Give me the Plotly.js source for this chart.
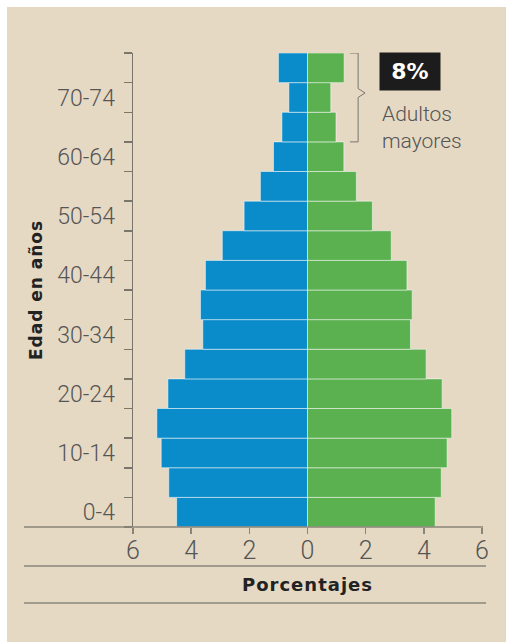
<!DOCTYPE html>
<html>
<head>
<meta charset="utf-8">
<script src="https://cdn.plot.ly/plotly-3.0.1.min.js"></script>
<style>
  html, body { margin: 0; padding: 0; background: #ffffff; }
  #chart { width: 506px; height: 642px; }
  .xtitle, .ytitle { letter-spacing: 1px; }
</style>
</head>
<body>
<div id="chart"></div>
<script>
// Age groups (bottom to top)
const ageGroups = ['0-4','5-9','10-14','15-19','20-24','25-29','30-34','35-39',
                   '40-44','45-49','50-54','55-59','60-64','65-69','70-74','75+'];
// Percent of population, men (left, blue) and women (right, green)
const menPct   = [4.50, 4.77, 5.03, 5.18, 4.80, 4.22, 3.60, 3.68, 3.51, 2.93, 2.18, 1.62, 1.17, 0.88, 0.64, 1.00];
const womenPct = [4.39, 4.60, 4.80, 4.96, 4.63, 4.08, 3.54, 3.60, 3.42, 2.88, 2.23, 1.68, 1.25, 0.98, 0.80, 1.26];
// X tick values and labels
const xTickVals = [-6, -4, -2, 0, 2, 4, 6];
const xTickText = ['6', '4', '2', '0', '2', '4', '6'];
// Elderly share callout
const elderlyShare = '8%';
const elderlyLabel = 'Adultos<br>mayores';

const idx = ageGroups.map((_, i) => i);
const yTickVals = idx.filter(i => i % 2 === 0);
const yTickText = yTickVals.map(i => ageGroups[i]);

const lineCol = 'rgba(255,255,255,0.5)';
const traces = [
  {
    type: 'bar', orientation: 'h', name: 'Hombres',
    y: idx, x: menPct.map(v => -v),
    marker: { color: '#0a8bca', line: { color: lineCol, width: 1 } },
    hoverinfo: 'skip'
  },
  {
    type: 'bar', orientation: 'h', name: 'Mujeres',
    y: idx, x: womenPct,
    marker: { color: '#5bb150', line: { color: lineCol, width: 1 } },
    hoverinfo: 'skip'
  }
];

const L = 133, R = 24, T = 53, B = 115, W = 506, H = 642;
const pw = W - L - R, ph = H - T - B;
const px2x = p => (p - L) / pw;          // pixel -> paper x
const py2y = p => (H - B - p) / ph;      // pixel -> paper y

const gray = '#a19b8e';
const layout = {
  width: W, height: H,
  margin: { l: L, r: R, t: T, b: B, pad: 0 },
  paper_bgcolor: '#e5d9c4',
  plot_bgcolor: 'rgba(0,0,0,0)',
  showlegend: false,
  barmode: 'overlay',
  bargap: 0,
  font: { family: 'Liberation Sans, Arial, sans-serif', color: '#555' },
  xaxis: {
    range: [-6, 6],
    tickvals: xTickVals, ticktext: xTickText,
    ticks: 'outside', ticklen: 6, tickcolor: '#8a8578', tickwidth: 1.5,
    ticklabelstandoff: -5,
    tickfont: { family: 'Roboto, Liberation Sans, sans-serif', weight: 300, size: 25, color: '#555' },
    showgrid: false, zeroline: false, showline: false,
    fixedrange: true,
    title: { text: 'Porcentajes', standoff: 14,
             font: { family: 'DejaVu Sans, sans-serif', weight: 'bold', size: 18, color: '#222' } }
  },
  yaxis: {
    range: [-0.5, 15.5],
    tickvals: yTickVals, ticktext: yTickText,
    ticks: '', ticklabelstandoff: 12,
    tickfont: { family: 'Roboto, Liberation Sans, sans-serif', weight: 300, size: 23, color: '#555' },
    minor: { tick0: -0.5, dtick: 1, ticks: 'outside', ticklen: 8, tickcolor: '#7a766c', tickwidth: 1.5, showgrid: false },
    showgrid: false, zeroline: false,
    showline: true, linecolor: '#7a766c', linewidth: 1.5,
    fixedrange: true,
    title: { text: 'Edad en años', standoff: 10,
             font: { family: 'DejaVu Sans, sans-serif', weight: 'bold', size: 17, color: '#222' } }
  },
  shapes: [
    // white border strips (top and left)
    { type: 'rect', xref: 'paper', yref: 'paper', x0: px2x(-5), x1: px2x(7), y0: py2y(650), y1: py2y(-5),
      fillcolor: '#ffffff', line: { width: 0 }, layer: 'below' },
    { type: 'rect', xref: 'paper', yref: 'paper', x0: px2x(-5), x1: px2x(515), y0: py2y(7), y1: py2y(-5),
      fillcolor: '#ffffff', line: { width: 0 }, layer: 'below' },
    // bottom axis line
    { type: 'line', xref: 'paper', yref: 'paper', x0: px2x(24), x1: px2x(483), y0: 0, y1: 0,
      line: { color: '#8a8578', width: 1.5 } },
    // rule lines around the x title
    { type: 'line', xref: 'paper', yref: 'paper', x0: px2x(24), x1: px2x(486), y0: py2y(566), y1: py2y(566),
      line: { color: gray, width: 2 } },
    { type: 'line', xref: 'paper', yref: 'paper', x0: px2x(24), x1: px2x(486), y0: py2y(603), y1: py2y(603),
      line: { color: gray, width: 2 } },
    // curly brace for the elderly groups
    { type: 'path', xref: 'x', yref: 'y',
      path: 'M 1.46 15.5 L 1.74 15.5 L 1.74 14.3 L 1.98 14.15 L 1.74 14.0 L 1.74 12.5 L 1.46 12.5',
      line: { color: '#7a766c', width: 1 } }
  ],
  annotations: [
    { xref: 'x', yref: 'y', x: 3.52, y: 14.86, text: '<b>' + elderlyShare + '</b>', showarrow: false,
      width: 60, height: 37, bgcolor: '#1c1c1c', borderpad: 0, align: 'center', valign: 'middle',
      font: { family: 'DejaVu Sans, sans-serif', size: 22, color: '#ffffff' } },
    { xref: 'x', yref: 'y', x: 2.49, y: 12.98, xanchor: 'left', yanchor: 'middle', align: 'left',
      text: elderlyLabel, showarrow: false,
      font: { family: 'Roboto, Liberation Sans, sans-serif', weight: 300, size: 21, color: '#555' } }
  ]
};

Plotly.newPlot('chart', traces, layout, { displayModeBar: false, staticPlot: true });
</script>
</body>
</html>
